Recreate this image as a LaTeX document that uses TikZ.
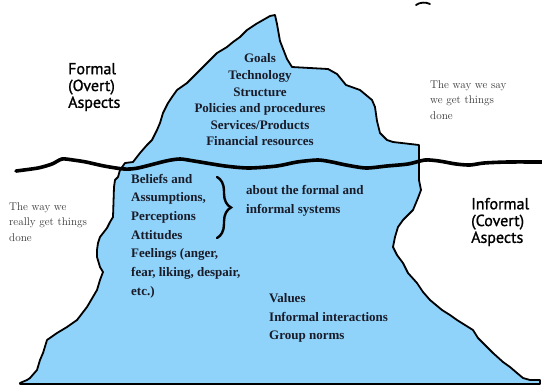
\documentclass[tikz,border=0pt]{standalone}
\usepackage{fontspec}
\newfontfamily\sansf[FakeBold=1.2]{PT Sans}
\newfontfamily\tnr{Liberation Serif}
\usetikzlibrary{decorations.pathreplacing}
\definecolor{ice}{RGB}{143,210,250}
\definecolor{ink}{RGB}{25,28,40}
\definecolor{greytext}{RGB}{55,55,55}
\begin{document}
\begin{tikzpicture}[x=1pt,y=-1pt,
  outline/.style={draw=black, line width=1.8pt, line join=round, fill=ice},
  waterline/.style={draw=black, line width=3.6pt, line cap=round, line join=round},
  bergtext/.style={font=\tnr\bfseries\fontsize{13}{16.6}\selectfont, text=ink, inner sep=0pt},
  lowtext/.style={font=\tnr\bfseries\fontsize{13}{18.7}\selectfont, text=ink, inner sep=0pt, align=left, anchor=west},
  aspect/.style={font=\sansf\fontsize{16}{16.8}\selectfont, text=black, align=left, inner sep=0pt, anchor=west},
  waytext/.style={font=\fontsize{11.2}{15.5}\selectfont, text=greytext, align=left, inner sep=0pt, anchor=west},
  bracestyle/.style={draw=black, line width=2.4pt, line cap=round, decorate, decoration={brace, amplitude=14pt, aspect=0.5}}]
\useasboundingbox (0,0) rectangle (542,386);
\fill[white] (0,0) rectangle (542,386);

% iceberg
\path[outline] (275,15) -- (277,24) -- (280,41) -- (287,59) -- (292,67) -- (328,69) -- (337,74)
 -- (346,85) -- (360,90) -- (372,100) -- (375,107) -- (377,121) -- (380,133) -- (387,140)
 -- (393,142) -- (419,145) -- (419,180) -- (421,190) -- (418,198) -- (413,210) -- (403,220)
 -- (398,227) -- (395,237) -- (393,247) -- (397,255) -- (403,263) -- (408,273) -- (417,283)
 -- (423,292) -- (430,300) -- (442,310) -- (450,315) -- (457,320) -- (465,325) -- (473,330)
 -- (478,338) -- (483,343) -- (493,353) -- (503,362) -- (510,367) -- (517,373) -- (523,378)
 -- (530,380) -- (540,380) -- (540,384) -- (20,384) -- (20,383) -- (27,380) -- (30,378)
 -- (37,370) -- (40,360) -- (43,353) -- (47,340) -- (57,333) -- (67,327) -- (77,320)
 -- (87,307) -- (97,290) -- (100,280) -- (103,272) -- (100,267) -- (97,257) -- (97,250)
 -- (98,243) -- (100,237) -- (107,228) -- (110,222) -- (113,217) -- (114,187) -- (115,180)
 -- (118,177) -- (120,170) -- (125,163) -- (133,162) -- (140,153) -- (147,145) -- (152,140)
 -- (157,130) -- (160,123) -- (163,113) -- (168,103) -- (172,97) -- (177,90) -- (187,83)
 -- (197,73) -- (207,63) -- (217,53) -- (227,47) -- (233,42) -- (240,37) -- (247,30)
 -- (256,24) -- (270,16) -- cycle;

% waterline
\draw[waterline] plot[smooth, tension=0.45] coordinates {(16,171) (38,168) (52,164) (62,159)
 (73,160) (86,162) (104,166) (124,169) (138,168) (166,161) (180,159) (194,161) (225,166)
 (249,168) (277,166) (297,162) (318,160) (332,162) (346,165) (366,168) (387,166) (408,164)
 (425,160) (439,161) (456,164) (470,165) (484,163) (508,162) (542,162)};

% small mark at top
\draw[line width=1.8pt, line cap=round] (416,5) .. controls (420,2) and (426,2) .. (430,4);

% texts
\node[bergtext, align=center] (formalitems) at (260,100)
 {Goals\\Technology\\Structure\\Policies and procedures\\Services/Products\\Financial resources};
\node[aspect] (formal) at (68,87) {Formal\\(Overt)\\Aspects};
\node[aspect] (informal) at (471,222) {Informal\\(Covert)\\Aspects};
\node[waytext] (say) at (430,100) {The way we say\\we get things\\done};
\node[waytext] (really) at (9,222) {The way we\\really get things\\done};
\node[lowtext] (beliefs) at (131,236)
 {Beliefs and\\Assumptions,\\Perceptions\\Attitudes\\Feelings (anger,\\fear, liking, despair,\\etc.)};
\node[lowtext] (about) at (246,201) {about the formal and\\informal systems};
\node[lowtext] (values) at (269,318) {Values\\Informal interactions\\Group norms};

% brace
\coordinate (bracetop) at (217,177);
\coordinate (bracebot) at (217,238);
\draw[bracestyle] (bracetop) -- (bracebot);
\end{tikzpicture}
\end{document}
